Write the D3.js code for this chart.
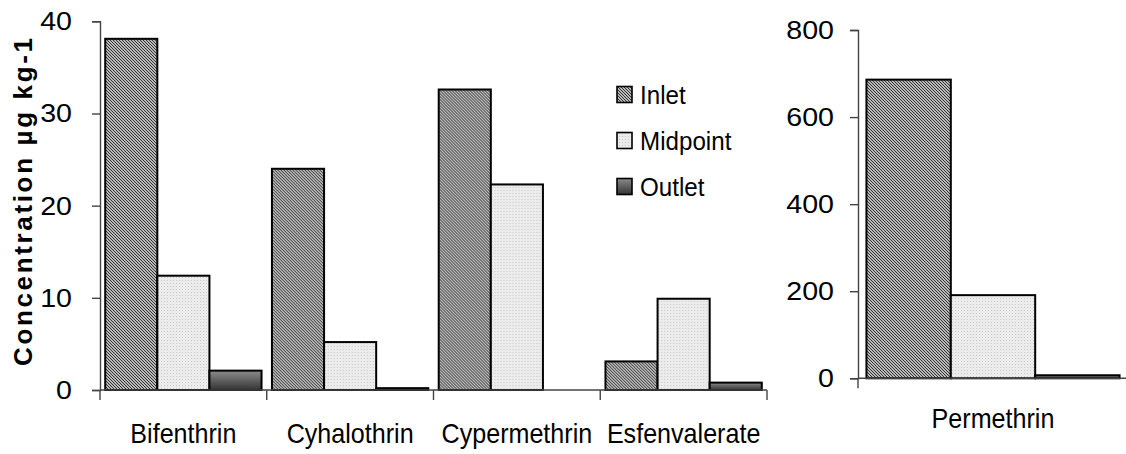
<!DOCTYPE html>
<html>
<head>
<meta charset="utf-8">
<script src="https://cdn.jsdelivr.net/npm/d3@7"></script>
<style>
  html, body { margin: 0; padding: 0; background: #fff; }
  svg { display: block; font-family: "Liberation Sans", Arial, sans-serif; }
</style>
</head>
<body>
<svg id="chart" width="1126" height="454"></svg>
<script>
// Pyrethroid concentrations in sediment (µg/kg) at three sampling points
const series = ["Inlet", "Midpoint", "Outlet"];

const leftCompounds = ["Bifenthrin", "Cyhalothrin", "Cypermethrin", "Esfenvalerate"];
const leftInlet    = [38.1, 24.0, 32.6, 3.1];
const leftMidpoint = [12.4, 5.2, 22.3, 9.9];
const leftOutlet   = [2.1, 0.2, 0.0, 0.8];
const leftTicks    = [0, 10, 20, 30, 40];

const rightCompounds = ["Permethrin"];
const rightInlet    = [686];
const rightMidpoint = [191];
const rightOutlet   = [7];
const rightTicks    = [0, 200, 400, 600, 800];

const yTitle = "Concentration µg kg-1";

const svg = d3.select("#chart");
const defs = svg.append("defs");

// Inlet: dense diagonal hatch
const pInlet = defs.append("pattern").attr("id", "pat-inlet")
  .attr("patternUnits", "userSpaceOnUse").attr("width", 3).attr("height", 3);
pInlet.append("rect").attr("width", 3).attr("height", 3).attr("fill", "#f2f2f2");
pInlet.append("path").attr("d", "M0,0 L3,3 M-1,2 L1,4 M2,-1 L4,1")
  .attr("stroke", "#2a2a2a").attr("stroke-width", 1.1);

// Midpoint: light dotted grey
const pMid = defs.append("pattern").attr("id", "pat-mid")
  .attr("patternUnits", "userSpaceOnUse").attr("width", 3).attr("height", 3);
pMid.append("rect").attr("width", 3).attr("height", 3).attr("fill", "#ececec");
pMid.append("rect").attr("x", 1).attr("y", 1).attr("width", 1).attr("height", 1).attr("fill", "#c8c8c8");

// Outlet: dark grey vertical gradient
const gOut = defs.append("linearGradient").attr("id", "grad-out")
  .attr("x1", 0).attr("y1", 0).attr("x2", 0).attr("y2", 1);
gOut.append("stop").attr("offset", "0%").attr("stop-color", "#8c8c8c");
gOut.append("stop").attr("offset", "100%").attr("stop-color", "#333");

const fills = { Inlet: "url(#pat-inlet)", Midpoint: "url(#pat-mid)", Outlet: "url(#grad-out)" };

const axisColor = "#444";

function rows(cats, a, b, c) {
  return cats.map((k, i) => ({ cat: k, vals: [
    { s: "Inlet", v: a[i] }, { s: "Midpoint", v: b[i] }, { s: "Outlet", v: c[i] }
  ]}));
}

// Text helper with an optional horizontal scale
function label(g, x, y, txt, size, anchor, sx) {
  return g.append("text")
    .attr("transform", `translate(${x},${y}) scale(${sx},1)`)
    .attr("text-anchor", anchor)
    .attr("font-size", size)
    .attr("fill", "#000")
    .text(txt);
}

function panel(opts) {
  const { data, cats, ticks, xRange, yRange, ymax, catLabelY, tickGap, endTick } = opts;
  const g = svg.append("g");
  const x = d3.scaleBand().domain(cats).range(xRange).paddingInner(0).paddingOuter(0);
  const xs = d3.scaleBand().domain(series).range([0, x.bandwidth()]).paddingInner(0).paddingOuter(0.1);
  const y = d3.scaleLinear().domain([0, ymax]).range(yRange);

  // Bars
  const groups = g.selectAll("g.grp").data(data).join("g")
    .attr("transform", d => `translate(${x(d.cat)},0)`);
  groups.selectAll("rect").data(d => d.vals.filter(e => e.v > 0)).join("rect")
    .attr("x", e => xs(e.s))
    .attr("y", e => y(e.v))
    .attr("width", xs.bandwidth())
    .attr("height", e => y(0) - y(e.v))
    .attr("fill", e => fills[e.s])
    .attr("stroke", "#000")
    .attr("stroke-width", 2);

  // Y axis
  const yAxis = d3.axisLeft(y).tickValues(ticks).tickSize(8).tickFormat("");
  const ya = g.append("g").attr("transform", `translate(${xRange[0]},0)`).call(yAxis);
  ya.select(".domain").attr("stroke", axisColor).attr("stroke-width", 1.4);
  ya.selectAll(".tick line").attr("stroke", axisColor).attr("stroke-width", 1.4);
  ticks.forEach(t => {
    label(g, xRange[0] - tickGap, y(t) + 9, String(t), 26, "end", 1.1);
  });

  // X axis with ticks at category boundaries
  const xa = g.append("g");
  xa.append("line")
    .attr("x1", xRange[0]).attr("x2", xRange[1] + (endTick ? 0 : 2))
    .attr("y1", y(0)).attr("y2", y(0))
    .attr("stroke", axisColor).attr("stroke-width", 1.4);
  const bounds = cats.map(c => x(c));
  if (endTick) bounds.push(xRange[1]);
  xa.selectAll("line.tk").data(bounds).join("line").attr("class", "tk")
    .attr("x1", d => d).attr("x2", d => d)
    .attr("y1", y(0)).attr("y2", y(0) + 10)
    .attr("stroke", axisColor).attr("stroke-width", 1.4);

  cats.forEach(c => {
    label(g, x(c) + x.bandwidth() / 2, catLabelY, c, 27, "middle", 0.93);
  });
}

panel({
  data: rows(leftCompounds, leftInlet, leftMidpoint, leftOutlet),
  cats: leftCompounds, ticks: leftTicks,
  xRange: [100, 767], yRange: [390, 21.3], ymax: 40,
  catLabelY: 443, tickGap: 28, endTick: true
});

panel({
  data: rows(rightCompounds, rightInlet, rightMidpoint, rightOutlet),
  cats: rightCompounds, ticks: rightTicks,
  xRange: [858, 1128], yRange: [378.3, 30], ymax: 800,
  catLabelY: 428, tickGap: 24, endTick: false
});

// Y-axis title
svg.append("text")
  .attr("transform", "translate(32,202) rotate(-90)")
  .attr("text-anchor", "middle")
  .attr("font-size", 26)
  .attr("font-weight", "bold")
  .attr("textLength", 328)
  .attr("lengthAdjust", "spacing")
  .text(yTitle);

// Legend
const legend = svg.append("g");
series.forEach((s, i) => {
  const cy = 94.5 + i * 46;
  legend.append("rect")
    .attr("x", 617).attr("y", cy - 8).attr("width", 15).attr("height", 16)
    .attr("fill", fills[s]).attr("stroke", "#000").attr("stroke-width", 1.6);
  label(legend, 640, cy + 9.5, s, 26, "start", 0.93);
});
</script>
</body>
</html>
